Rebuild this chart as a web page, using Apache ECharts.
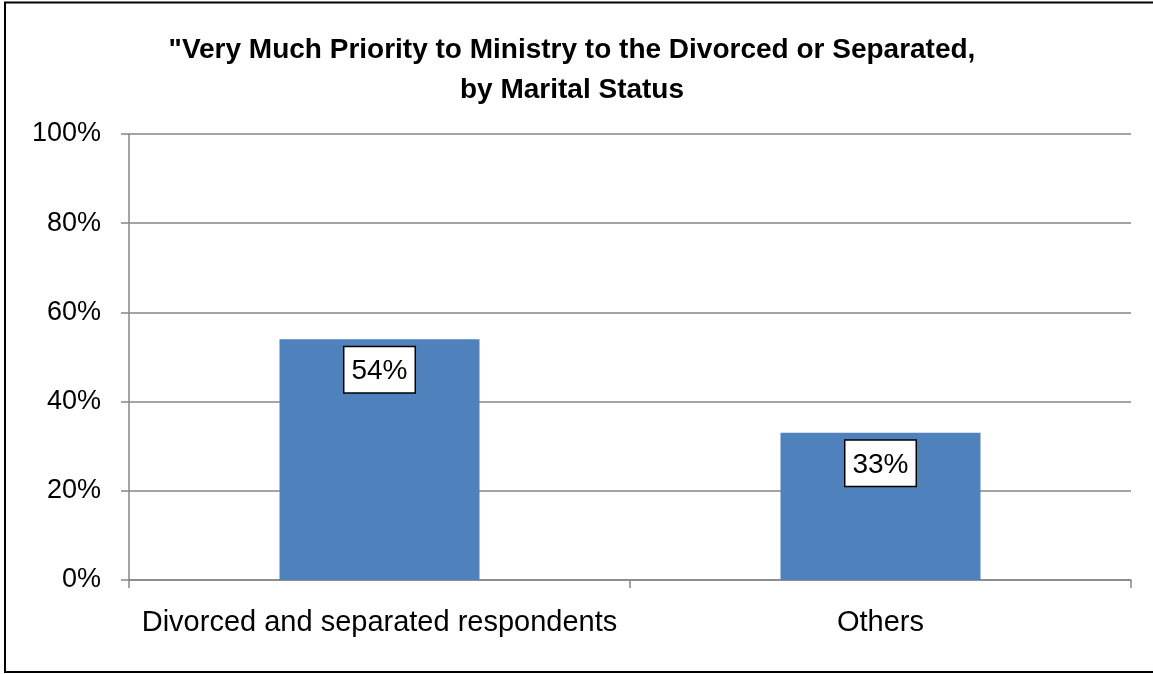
<!DOCTYPE html>
<html><head><meta charset="utf-8">
<script src="https://cdn.jsdelivr.net/npm/echarts@6/dist/echarts.min.js"></script>
<style>html,body{margin:0;padding:0;background:#fff}#c{width:1153px;height:674px}</style>
</head><body><div id="c"></div>
<script>
const titleText = '"Very Much Priority to Ministry to the Divorced or Separated,\nby Marital Status';
const categories = ['Divorced and separated respondents', 'Others'];
const values = [54, 33];
const yTicks = [0, 20, 40, 60, 80, 100];

const FONT = '"Liberation Sans", Arial, sans-serif';
const chart = echarts.init(document.getElementById('c'));
chart.setOption({
  backgroundColor: '#fff',
  animation: false,
  title: {
    text: titleText,
    left: 567, top: 25, textAlign: 'center',
    textStyle: { fontFamily: FONT, fontWeight: 'bold', fontSize: 28, color: '#000', lineHeight: 40 }
  },
  graphic: [{
    type: 'rect', shape: { x: 5, y: 2.5, width: 1200, height: 669.5 },
    style: { fill: 'none', stroke: '#000', lineWidth: 2 }, silent: true
  }],
  grid: { left: 129, right: 22, top: 134, bottom: 94 },
  xAxis: {
    type: 'category', data: categories,
    axisLine: { lineStyle: { color: '#868686', width: 1.5 } },
    axisTick: { show: true, length: 8, lineStyle: { color: '#868686', width: 1.5 } },
    axisLabel: { fontFamily: FONT, fontSize: 29, color: '#000', margin: 28, interval: 0 }
  },
  yAxis: {
    type: 'value', min: 0, max: 100, interval: 20,
    axisLine: { show: true, lineStyle: { color: '#868686', width: 1.5 } },
    axisTick: { show: true, length: 8, lineStyle: { color: '#868686', width: 1.5 } },
    splitLine: { lineStyle: { color: '#868686', width: 1.5 } },
    axisLabel: { fontFamily: FONT, fontSize: 27, color: '#000', margin: 28,
      formatter: v => yTicks.includes(v) ? v + '%' : '' }
  },
  series: [{
    type: 'bar', data: values, barWidth: 200,
    itemStyle: { color: '#4F81BD' },
    label: {
      show: true, position: 'insideTop', distance: 8,
      formatter: p => p.value + '%',
      fontFamily: FONT, fontSize: 28, color: '#000',
      backgroundColor: '#fff', borderColor: '#000', borderWidth: 1.5,
      padding: [10, 7, 7, 7]
    }
  }]
});
</script></body></html>
